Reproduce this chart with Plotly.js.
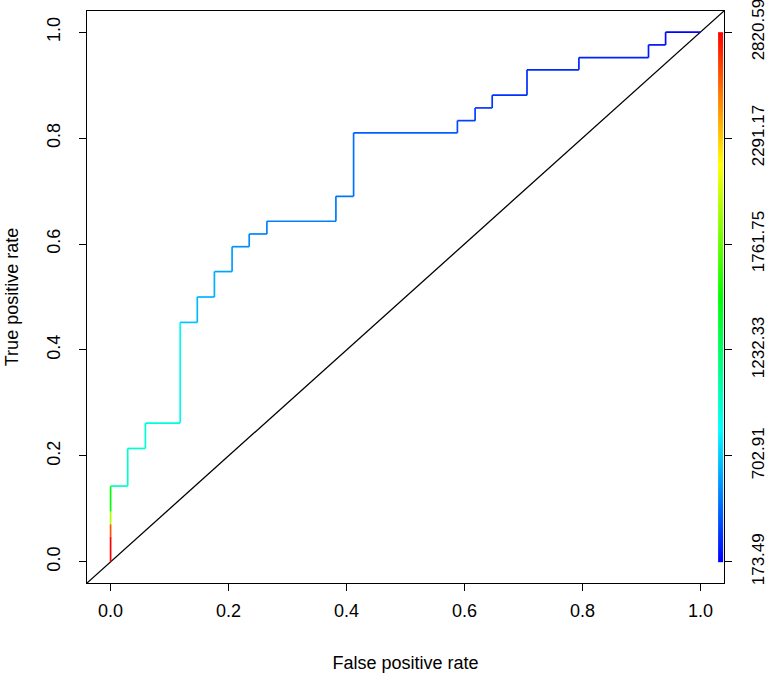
<!DOCTYPE html>
<html>
<head>
<meta charset="utf-8">
<script src="https://cdn.plot.ly/plotly-3.0.1.min.js"></script>
<style>html,body{margin:0;padding:0;background:#fff;}#chart{width:771px;height:674px;}</style>
</head>
<body>
<div id="chart"></div>
<script>
// ROC curve vertices (false positive rate, true positive rate)
const rocFpr = [0, 0, 0, 0, 0, 0.029, 0.029, 0.059, 0.059, 0.118, 0.118, 0.147, 0.147, 0.176, 0.176,
  0.206, 0.206, 0.235, 0.235, 0.265, 0.265, 0.382, 0.382, 0.412, 0.412, 0.588, 0.588, 0.618, 0.618,
  0.647, 0.647, 0.706, 0.706, 0.794, 0.794, 0.912, 0.912, 0.941, 0.941, 1.0];
const rocTpr = [0, 0.048, 0.071, 0.095, 0.143, 0.143, 0.214, 0.214, 0.262, 0.262, 0.452, 0.452, 0.5, 0.5, 0.548,
  0.548, 0.595, 0.595, 0.619, 0.619, 0.643, 0.643, 0.69, 0.69, 0.81, 0.81, 0.833, 0.833, 0.857,
  0.857, 0.881, 0.881, 0.929, 0.929, 0.952, 0.952, 0.976, 0.976, 1.0, 1.0];
// cutoff value for each segment between consecutive vertices (estimated from colour)
const segCutoff = [2820, 2600, 1950, 1480, 990, 975, 960, 950, 935, 820, 680, 660, 640, 625, 600,
  585, 550, 535, 520, 510, 500, 490, 475, 460, 420, 370, 345, 335, 322, 312, 300, 290, 280, 270,
  258, 240, 220, 200, 180];
// colour key
const cutMin = 173.49, cutMax = 2820.59;
const keyTickVals = [0, 0.2, 0.4, 0.6, 0.8, 1.0];
const keyTickText = ["173.49", "702.91", "1232.33", "1761.75", "2291.17", "2820.59"];
const axisTicks = [0, 0.2, 0.4, 0.6, 0.8, 1.0];
const xRange = [-0.04, 1.04], yRange = [-0.04, 1.04];
const keyX = [1.03, 1.039];

function hsv2rgb(h, s, v) {
  const i = Math.floor(h * 6), f = h * 6 - i;
  const p = v * (1 - s), q = v * (1 - f * s), t = v * (1 - (1 - f) * s);
  let r, g, b;
  switch (((i % 6) + 6) % 6) {
    case 0: r = v; g = t; b = p; break;
    case 1: r = q; g = v; b = p; break;
    case 2: r = p; g = v; b = t; break;
    case 3: r = p; g = q; b = v; break;
    case 4: r = t; g = p; b = v; break;
    default: r = v; g = p; b = q;
  }
  return 'rgb(' + Math.round(r * 255) + ',' + Math.round(g * 255) + ',' + Math.round(b * 255) + ')';
}
function colorAt(t) { t = Math.max(0, Math.min(1, t)); return hsv2rgb((1 - t) * 4 / 6, 1, 1); }
function colorFor(c) { return colorAt((c - cutMin) / (cutMax - cutMin)); }

const traces = [];
// diagonal reference line
traces.push({x: xRange, y: yRange, mode: 'lines', line: {color: '#000', width: 1.3}, hoverinfo: 'skip', showlegend: false});
// colourised ROC segments
for (let i = 0; i < rocFpr.length - 1; i++) {
  traces.push({x: [rocFpr[i], rocFpr[i + 1]], y: [rocTpr[i], rocTpr[i + 1]], mode: 'lines',
    line: {color: colorFor(segCutoff[i]), width: 1.7}, showlegend: false, hoverinfo: 'skip'});
}
// colour key bar
const nKey = 256, keyY = [], keyZ = [];
for (let k = 0; k <= nKey; k++) keyY.push(k / nKey);
for (let k = 0; k < nKey; k++) keyZ.push([cutMin + (k + 0.5) / nKey * (cutMax - cutMin)]);
const cs = [];
for (let k = 0; k <= 64; k++) cs.push([k / 64, colorAt(k / 64)]);
traces.push({type: 'heatmap', x: keyX, y: keyY, z: keyZ, colorscale: cs, zmin: cutMin, zmax: cutMax,
  showscale: false, hoverinfo: 'skip', zsmooth: false});
// invisible trace for right axis
traces.push({x: [1.04], y: [0], yaxis: 'y2', mode: 'markers', marker: {opacity: 0}, showlegend: false, hoverinfo: 'skip'});

const font = {family: '"Liberation Sans", Arial, Helvetica, sans-serif', size: 18, color: '#000'};
const keyFont = {family: '"Liberation Sans", Arial, Helvetica, sans-serif', size: 17, color: '#000'};
const layout = {
  width: 771, height: 674,
  margin: {l: 87, r: 47, t: 11, b: 91, pad: 0},
  paper_bgcolor: '#fff', plot_bgcolor: '#fff',
  font: font, showlegend: false,
  xaxis: {range: xRange, tickvals: axisTicks, tickformat: '.1f', ticks: 'outside', ticklen: 7, tickwidth: 1,
    tickcolor: '#000', showline: true, linecolor: '#000', linewidth: 1, mirror: true, showgrid: false,
    zeroline: false, ticklabelstandoff: 4,
    title: {text: 'False positive rate', font: font, standoff: 36}},
  yaxis: {range: yRange, tickvals: axisTicks, tickformat: '.1f', ticks: 'outside', ticklen: 7, tickwidth: 1,
    tickcolor: '#000', showline: true, linecolor: '#000', linewidth: 1, mirror: true, showgrid: false,
    zeroline: false, tickangle: -90, ticklabelstandoff: 12,
    title: {text: 'True positive rate', font: font, standoff: 20}},
  yaxis2: {range: yRange, overlaying: 'y', side: 'right', tickvals: keyTickVals, ticktext: keyTickText,
    ticks: 'outside', ticklen: 7, tickwidth: 1, tickcolor: '#000', showline: false, showgrid: false,
    zeroline: false, tickangle: -90, ticklabelstandoff: 12, tickfont: keyFont, ticklabeloverflow: 'allow'}
};
Plotly.newPlot('chart', traces, layout, {staticPlot: true, displayModeBar: false});
</script>
</body>
</html>
